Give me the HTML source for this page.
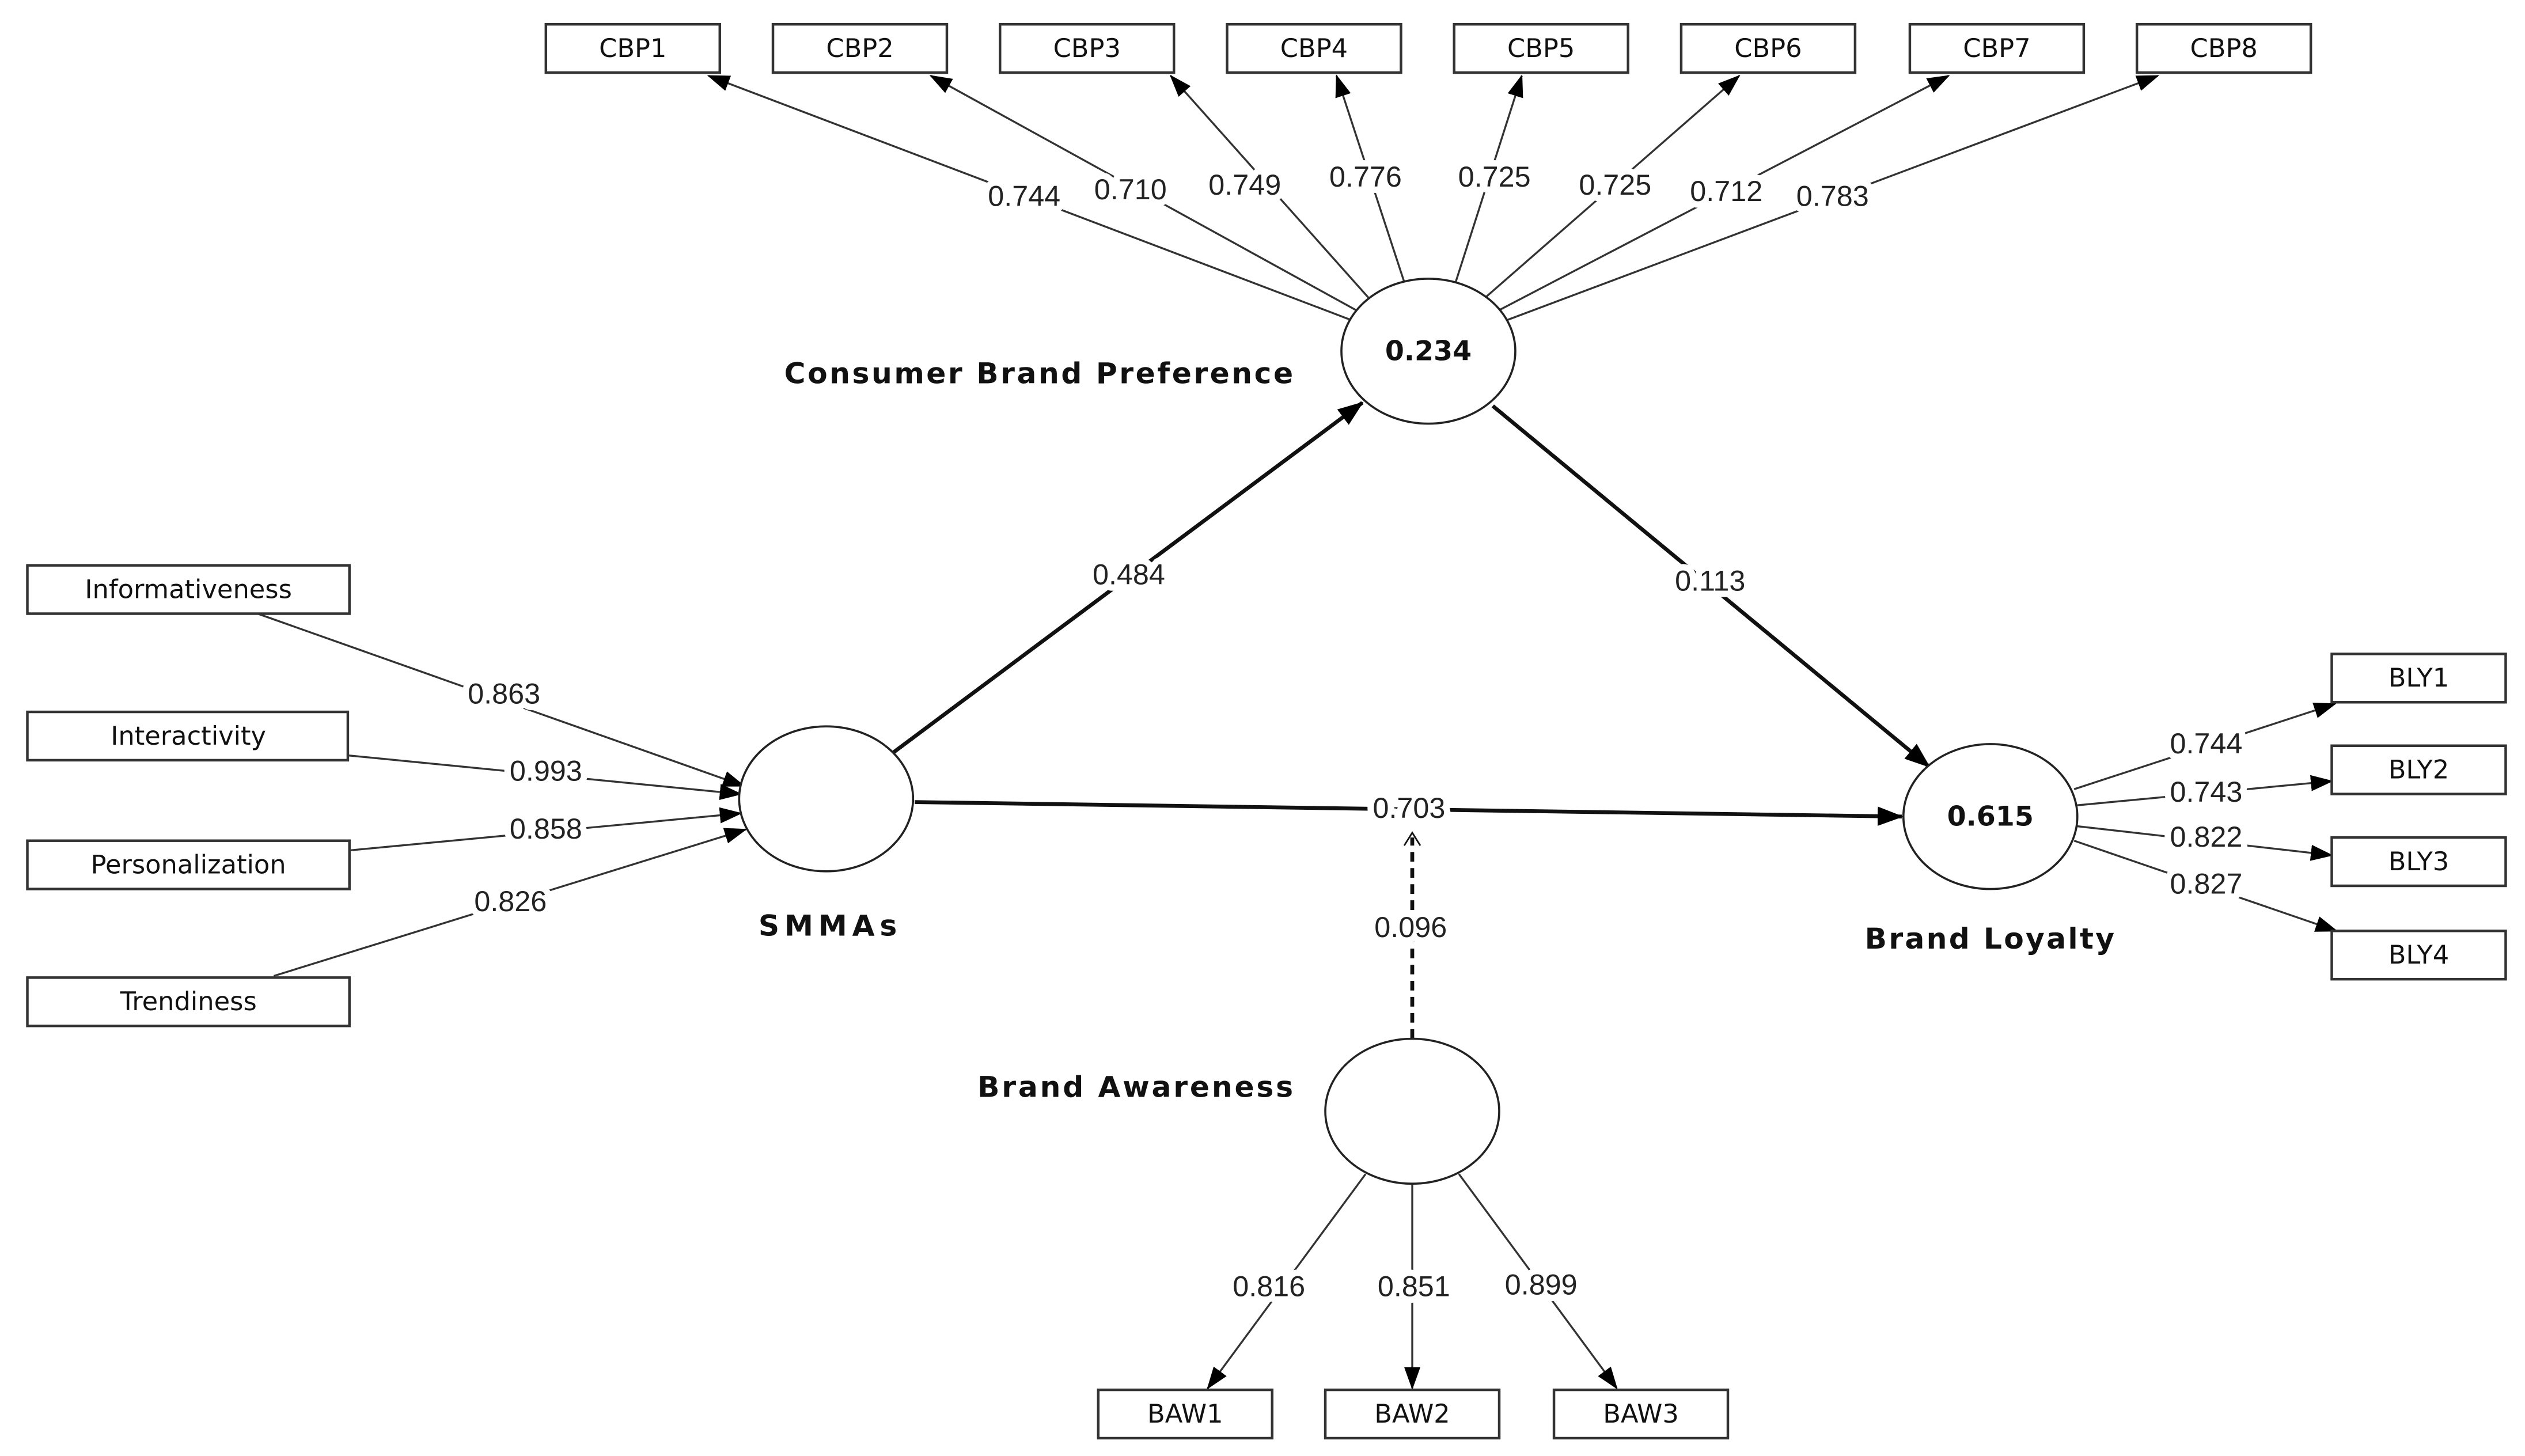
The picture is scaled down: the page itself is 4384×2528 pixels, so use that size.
<!DOCTYPE html>
<html><head><meta charset="utf-8"><style>
html,body{margin:0;padding:0;background:#fff;}
svg{display:block;}
text{font-family:"DejaVu Sans","Liberation Sans",sans-serif;}
.n{font-family:"Liberation Sans",sans-serif;font-size:18px;fill:#222;text-anchor:middle;dominant-baseline:middle;paint-order:stroke;stroke:#fff;stroke-width:8px;stroke-linejoin:round;}
.b{font-size:16px;fill:#111;text-anchor:middle;dominant-baseline:middle;}
.L{font-size:18px;font-weight:bold;fill:#111;}
rect{fill:#fff;stroke:#333;stroke-width:1.6;}
ellipse{fill:#fff;stroke:#222;stroke-width:1.3;}
.t{stroke:#333;stroke-width:1.2;fill:none;marker-end:url(#a);}
.s{stroke:#111;stroke-width:2.4;fill:none;marker-end:url(#a2);}
</style></head><body>
<svg width="4384" height="2528" viewBox="0 0 1568 904" xmlns="http://www.w3.org/2000/svg">
<defs>
<marker id="a" markerWidth="14" markerHeight="10" refX="13" refY="5" orient="auto" markerUnits="userSpaceOnUse"><path d="M0,0 L14,5 L0,10 z" fill="#000"/></marker>
<marker id="a2" markerWidth="16" markerHeight="12" refX="15" refY="6" orient="auto" markerUnits="userSpaceOnUse"><path d="M0,0 L16,6 L0,12 z" fill="#000"/></marker>
</defs>
<line class="t" x1="840" y1="199" x2="440" y2="47"/>
<line class="t" x1="843" y1="193" x2="578" y2="47"/>
<line class="t" x1="850" y1="185" x2="727" y2="47"/>
<line class="t" x1="872" y1="175" x2="830" y2="47"/>
<line class="t" x1="904" y1="175" x2="945" y2="47"/>
<line class="t" x1="922" y1="185" x2="1080" y2="47"/>
<line class="t" x1="930" y1="193" x2="1210" y2="47"/>
<line class="t" x1="935" y1="199" x2="1340" y2="47"/>
<text class="n" x="636" y="123">0.744</text>
<text class="n" x="702" y="119">0.710</text>
<text class="n" x="773" y="116">0.749</text>
<text class="n" x="848" y="111">0.776</text>
<text class="n" x="928" y="111">0.725</text>
<text class="n" x="1003" y="116">0.725</text>
<text class="n" x="1072" y="120">0.712</text>
<text class="n" x="1138" y="123">0.783</text>
<line class="t" x1="160" y1="381" x2="462" y2="488"/>
<line class="t" x1="216" y1="469" x2="460" y2="493"/>
<line class="t" x1="217" y1="528" x2="460" y2="505"/>
<line class="t" x1="170" y1="606" x2="463" y2="515"/>
<text class="n" x="313" y="432">0.863</text>
<text class="n" x="339" y="480">0.993</text>
<text class="n" x="339" y="516">0.858</text>
<text class="n" x="317" y="561">0.826</text>
<line class="s" x1="555" y1="467" x2="846" y2="250"/>
<line class="s" x1="927" y1="252" x2="1198" y2="476"/>
<line class="s" x1="568" y1="498" x2="1181" y2="507"/>
<line x1="877" y1="645" x2="877" y2="520" stroke="#111" stroke-width="2.4" stroke-dasharray="6,4"/>
<path d="M872,525 L877,517 L882,525" stroke="#111" stroke-width="1" fill="none"/>
<text class="n" x="701" y="358">0.484</text>
<text class="n" x="1062" y="362">0.113</text>
<text class="n" x="875" y="503">0.703</text>
<text class="n" x="876" y="577">0.096</text>
<line class="t" x1="1288" y1="490" x2="1450" y2="437"/>
<line class="t" x1="1290" y1="500" x2="1448" y2="485"/>
<line class="t" x1="1290" y1="513" x2="1448" y2="531"/>
<line class="t" x1="1288" y1="522" x2="1451" y2="578"/>
<text class="n" x="1370" y="463">0.744</text>
<text class="n" x="1370" y="493">0.743</text>
<text class="n" x="1370" y="521">0.822</text>
<text class="n" x="1370" y="550">0.827</text>
<line class="t" x1="848" y1="729" x2="750" y2="862"/>
<line class="t" x1="877" y1="735" x2="877" y2="862"/>
<line class="t" x1="906" y1="729" x2="1004" y2="862"/>
<text class="n" x="788" y="800">0.816</text>
<text class="n" x="878" y="800">0.851</text>
<text class="n" x="957" y="799">0.899</text>
<ellipse cx="887" cy="218" rx="54" ry="45"/>
<ellipse cx="513" cy="496" rx="54" ry="45"/>
<ellipse cx="1236" cy="507" rx="54" ry="45"/>
<ellipse cx="877" cy="690" rx="54" ry="45"/>
<text class="b" x="887" y="219" style="font-weight:bold;font-size:17px">0.234</text>
<text class="b" x="1236" y="508" style="font-weight:bold;font-size:17px">0.615</text>
<text class="L" x="487" y="238" textLength="316" lengthAdjust="spacing">Consumer Brand Preference</text>
<text class="L" x="471" y="581" textLength="86" lengthAdjust="spacing">SMMAs</text>
<text class="L" x="1158" y="589" textLength="155" lengthAdjust="spacing">Brand Loyalty</text>
<text class="L" x="607" y="681" textLength="196" lengthAdjust="spacing">Brand Awareness</text>
<rect x="339" y="15" width="108" height="30"/><text class="b" x="393" y="31">CBP1</text>
<rect x="480" y="15" width="108" height="30"/><text class="b" x="534" y="31">CBP2</text>
<rect x="621" y="15" width="108" height="30"/><text class="b" x="675" y="31">CBP3</text>
<rect x="762" y="15" width="108" height="30"/><text class="b" x="816" y="31">CBP4</text>
<rect x="903" y="15" width="108" height="30"/><text class="b" x="957" y="31">CBP5</text>
<rect x="1044" y="15" width="108" height="30"/><text class="b" x="1098" y="31">CBP6</text>
<rect x="1186" y="15" width="108" height="30"/><text class="b" x="1240" y="31">CBP7</text>
<rect x="1327" y="15" width="108" height="30"/><text class="b" x="1381" y="31">CBP8</text>
<rect x="17" y="351" width="200" height="30"/><text class="b" x="117" y="367">Informativeness</text>
<rect x="17" y="442" width="199" height="30"/><text class="b" x="117" y="458">Interactivity</text>
<rect x="17" y="522" width="200" height="30"/><text class="b" x="117" y="538">Personalization</text>
<rect x="17" y="607" width="200" height="30"/><text class="b" x="117" y="623">Trendiness</text>
<rect x="1448" y="406" width="108" height="30"/><text class="b" x="1502" y="422">BLY1</text>
<rect x="1448" y="463" width="108" height="30"/><text class="b" x="1502" y="479">BLY2</text>
<rect x="1448" y="520" width="108" height="30"/><text class="b" x="1502" y="536">BLY3</text>
<rect x="1448" y="578" width="108" height="30"/><text class="b" x="1502" y="594">BLY4</text>
<rect x="682" y="863" width="108" height="30"/><text class="b" x="736" y="879">BAW1</text>
<rect x="823" y="863" width="108" height="30"/><text class="b" x="877" y="879">BAW2</text>
<rect x="965" y="863" width="108" height="30"/><text class="b" x="1019" y="879">BAW3</text>
</svg>
</body></html>
